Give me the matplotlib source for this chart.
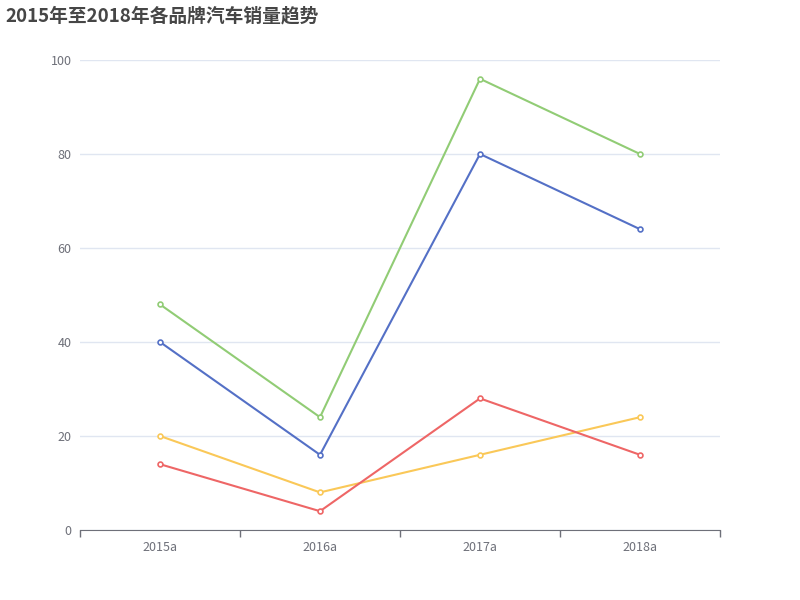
import matplotlib
matplotlib.use("Agg")
import matplotlib.pyplot as plt

plt.rcParams["font.family"] = ["Noto Sans CJK SC", "DejaVu Sans"]

years = ["2015a", "2016a", "2017a", "2018a"]
brand_blue = [40, 16, 80, 64]
brand_green = [48, 24, 96, 80]
brand_yellow = [20, 8, 16, 24]
brand_red = [14, 4, 28, 16]

series = [
    (brand_blue, "#5470c6"),
    (brand_green, "#91cc75"),
    (brand_yellow, "#fac858"),
    (brand_red, "#ee6666"),
]

fig = plt.figure(figsize=(8, 6), dpi=100)
ax = fig.add_axes([0.1, 70 / 600, 0.8, 470 / 600])

x = list(range(len(years)))
for values, color in series:
    ax.plot(x, values, color=color, linewidth=1.5, marker="o", markersize=3.5,
            markerfacecolor="white", markeredgecolor=color, markeredgewidth=1.2,
            zorder=3)

ax.set_xlim(-0.5, len(years) - 0.5)
ax.set_ylim(0, 100)
ax.set_yticks(range(0, 101, 20))
ax.grid(axis="y", color="#E0E6F1", linewidth=1)
ax.set_axisbelow(True)

# category labels in the middle, tick marks on the boundaries
ax.set_xticks(x)
ax.set_xticklabels(years)
ax.tick_params(axis="x", which="major", length=0, pad=8, colors="#6E7079",
               labelsize=9)
ax.set_xticks([i - 0.5 for i in range(len(years) + 1)], minor=True)
ax.tick_params(axis="x", which="minor", length=5, color="#6E7079", width=1,
               direction="out")
ax.tick_params(axis="y", length=0, pad=6, labelcolor="#6E7079", labelsize=9)

for side in ("top", "right", "left"):
    ax.spines[side].set_visible(False)
ax.spines["bottom"].set_color("#6E7079")

fig.text(5 / 800, 1 - 16 / 600, "2015年至2018年各品牌汽车销量趋势",
         fontsize=13.5, fontweight="bold", color="#464646", va="center")

fig.savefig("out.png", dpi=100)
